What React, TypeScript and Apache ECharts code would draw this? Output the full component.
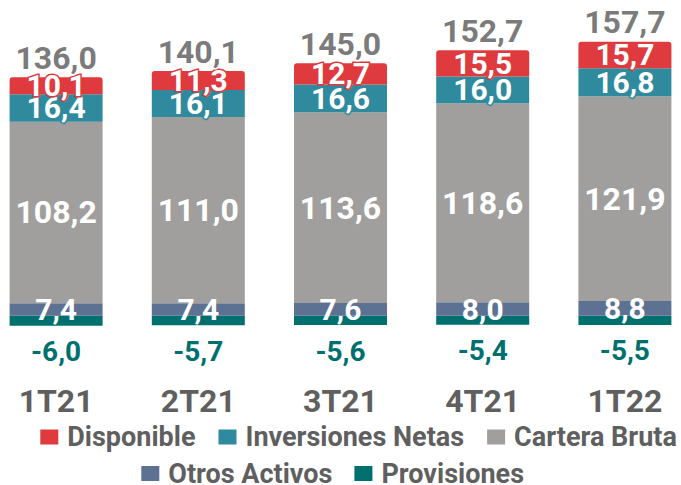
import React, { useEffect, useRef } from "react";
import * as echarts from "echarts";

const categories = ["1T21", "2T21", "3T21", "4T21", "1T22"];
const disponible = [10.1, 11.3, 12.7, 15.5, 15.7];
const inversiones = [16.4, 16.1, 16.6, 16.0, 16.8];
const cartera = [108.2, 111.0, 113.6, 118.6, 121.9];
const otros = [7.4, 7.4, 7.6, 8.0, 8.8];
const provisiones = [-6.0, -5.7, -5.6, -5.4, -5.5];
const totals = [136.0, 140.1, 145.0, 152.7, 157.7];

const C_DISP = "#DF3A3E";
const C_INV = "#2F8A9D";
const C_CART = "#A09F9D";
const C_OTROS = "#5D7192";
const C_PROV = "#00706F";
const C_TEXT = "#5F5F5F";

const fmt = (v: number) => v.toFixed(1).replace(".", ",");
const FONT = "Roboto";
const SHIFT = 14.6;
const CHART_W = 711.3;

export default function App() {
  const ref = useRef<HTMLDivElement>(null);
  useEffect(() => {
    document.body.style.margin = "0";
    document.body.style.overflow = "hidden";
    const chart = echarts.init(ref.current!, undefined, { renderer: "svg" });
    const positiveTops = categories.map(
      (_, i) => disponible[i] + inversiones[i] + cartera[i] + otros[i]
    );
    const innerLabel = (border: string, size: number, bw: number) => ({
      show: true,
      position: "inside" as const,
      color: "#fff",
      fontFamily: FONT,
      fontWeight: "bold" as const,
      fontSize: size,
      textBorderColor: border,
      textBorderWidth: bw,
      formatter: (p: any) => fmt(p.value),
    });
    const barBase = {
      type: "bar" as const,
      stack: "s",
      barWidth: 93,
    };
    const legendText = {
      color: C_TEXT,
      fontFamily: FONT,
      fontWeight: "bold" as const,
      fontSize: 27,
      padding: [0, 0, 0, 4],
    };
    chart.setOption({
      animation: false,
      grid: { left: 0, right: 0, top: 30.4, bottom: 152.5, containLabel: false },
      xAxis: {
        type: "category",
        data: categories,
        axisLine: { show: false },
        axisTick: { show: false },
        axisLabel: {
          margin: 52,
          color: C_TEXT,
          fontFamily: FONT,
          fontWeight: "bold",
          fontSize: 32,
        },
      },
      yAxis: {
        type: "value",
        min: -10,
        max: 170,
        show: false,
        splitLine: { show: false },
      },
      legend: [
        {
          data: ["Disponible", "Inversiones Netas", "Cartera Bruta"],
          left: 40.7 + SHIFT,
          top: 423.5,
          padding: 0,
          itemWidth: 18,
          itemHeight: 15,
          itemGap: 23,
          icon: "rect",
          textStyle: legendText,
        },
        {
          data: ["Otros Activos", "Provisiones"],
          left: 141.7 + SHIFT,
          top: 460,
          padding: 0,
          itemWidth: 18,
          itemHeight: 15,
          itemGap: 22,
          icon: "rect",
          textStyle: legendText,
        },
      ],
      series: [
        {
          ...barBase,
          name: "Provisiones",
          data: provisiones,
          itemStyle: { color: C_PROV },
          label: {
            show: true,
            position: "bottom",
            distance: 12,
            color: C_PROV,
            fontFamily: FONT,
            fontWeight: "bold",
            fontSize: 28,
            textBorderColor: "#fff",
            textBorderWidth: 3,
            formatter: (p: any) => fmt(p.value),
          },
        },
        {
          ...barBase,
          name: "Otros Activos",
          data: otros,
          itemStyle: { color: C_OTROS },
          label: innerLabel(C_OTROS, 30, 0),
        },
        {
          ...barBase,
          name: "Cartera Bruta",
          data: cartera,
          itemStyle: { color: C_CART },
          label: innerLabel(C_CART, 32, 0),
        },
        {
          ...barBase,
          name: "Inversiones Netas",
          data: inversiones,
          itemStyle: { color: C_INV },
          label: innerLabel(C_INV, 30, 3),
        },
        {
          ...barBase,
          name: "Disponible",
          data: disponible,
          itemStyle: { color: C_DISP, borderRadius: [3, 3, 0, 0] },
          label: innerLabel(C_DISP, 30, 3),
        },
        {
          type: "scatter",
          name: "Total",
          data: positiveTops,
          symbolSize: 1,
          itemStyle: { color: "rgba(0,0,0,0)" },
          label: {
            show: true,
            position: "top",
            distance: 3,
            color: "#575757",
            fontFamily: FONT,
            fontWeight: "bold",
            fontSize: 32,
            textBorderColor: "#fff",
            textBorderWidth: 3,
            formatter: (p: any) => fmt(totals[p.dataIndex]),
          },
          z: 10,
        },
      ],
    });
    return () => chart.dispose();
  }, []);
  return (
    <div
      ref={ref}
      style={{ width: CHART_W, height: 485, marginLeft: -SHIFT, overflow: "hidden" }}
    />
  );
}
